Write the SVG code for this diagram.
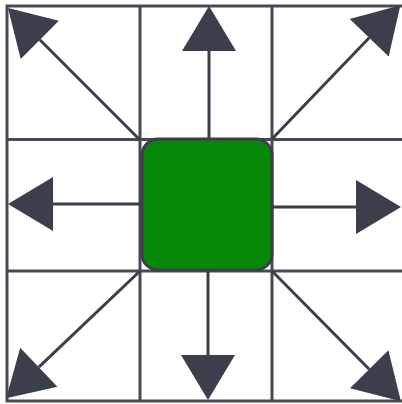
<svg xmlns="http://www.w3.org/2000/svg" width="402" height="404" viewBox="0 0 402 404">
  <style>
    .grid { stroke: #464a55; stroke-width: 3; fill: none; }
    .arrow { stroke: #3a3f4b; stroke-width: 3; fill: none; marker-end: url(#head); }
    .center { fill: #088808; stroke: #3a3f4b; stroke-width: 3; }
  </style>
  <defs>
    <marker id="head" markerUnits="userSpaceOnUse" viewBox="-46 -28 48 56" markerWidth="48" markerHeight="56" refX="-45" refY="0" orient="auto">
      <path d="M0,0 L-45,-27 L-45,27 Z" fill="#3a3f4b"/>
    </marker>
  </defs>
  <rect width="402" height="404" fill="#ffffff"/>
  <g id="grid">
    <rect class="grid" x="7" y="6" width="397" height="395"/>
    <line class="grid" x1="140" y1="6" x2="140" y2="401"/>
    <line class="grid" x1="272" y1="6" x2="272" y2="401"/>
    <line class="grid" x1="7" y1="139.5" x2="404" y2="139.5"/>
    <line class="grid" x1="7" y1="271" x2="404" y2="271"/>
  </g>
  <g id="connectors">
    <line class="arrow" x1="209" y1="139" x2="209" y2="51"/>
    <line class="arrow" x1="208" y1="271" x2="208" y2="355"/>
    <line class="arrow" x1="141" y1="204" x2="53" y2="204"/>
    <line class="arrow" x1="273" y1="207" x2="356" y2="207"/>
    <line class="arrow" x1="140" y1="140" x2="39.8" y2="39.8"/>
    <line class="arrow" x1="272" y1="139" x2="369.2" y2="37.8"/>
    <line class="arrow" x1="272" y1="271" x2="369.2" y2="369.2"/>
    <line class="arrow" x1="140" y1="271" x2="38.8" y2="367.2"/>
  </g>
  <g id="center-node">
    <rect class="center" x="142" y="139" width="130" height="131" rx="16" ry="16"/>
  </g>
</svg>
